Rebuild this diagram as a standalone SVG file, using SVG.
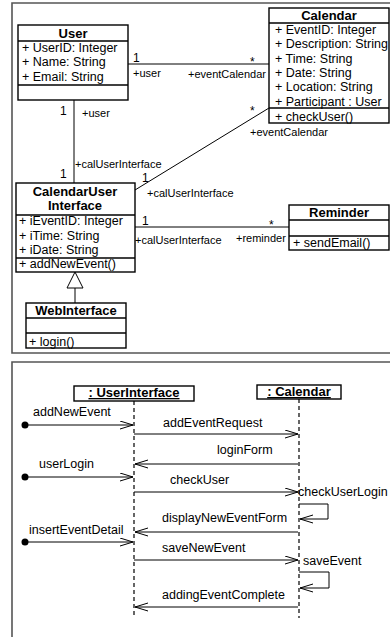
<svg xmlns="http://www.w3.org/2000/svg" width="390" height="637" viewBox="0 0 390 637">
<style>
text{font-family:"Liberation Sans",Arial,sans-serif;fill:#000}
.t{font-size:13px;font-weight:bold;text-anchor:middle}
.a{font-size:12.5px}
.r{font-size:11px}
.m{font-size:12px}
.box{fill:#fff;stroke:#000;stroke-width:1.4}
.sep{stroke:#000;stroke-width:1.4}
.frame{fill:none;stroke:#555;stroke-width:1.6}
.ln{fill:none;stroke:#000;stroke-width:1}
.life{stroke:#000;stroke-width:1.2;stroke-dasharray:4,3}
</style>
<defs>
<marker id="open" markerUnits="userSpaceOnUse" markerWidth="14" markerHeight="10" refX="13" refY="4.5" orient="auto">
<path d="M0,0.5 L13,4.5 L0,8.5" fill="none" stroke="#000" stroke-width="1"/>
</marker>
</defs>
<rect width="390" height="637" fill="#fff"/>
<!-- frames -->
<path class="frame" d="M395,3 H12 V353 H395"/>
<path class="frame" d="M395,362 H12 V640"/>

<g id="connectors">
<line class="ln" x1="128" y1="64" x2="269" y2="64"/>
<line class="ln" x1="74" y1="100" x2="74" y2="183"/>
<line class="ln" x1="135" y1="190" x2="269" y2="108"/>
<line class="ln" x1="135" y1="227" x2="289" y2="227"/>
<line class="ln" x1="75" y1="288" x2="75" y2="303"/>
<path d="M75,272 L67,288 L83,288 Z" fill="#fff" stroke="#000" stroke-width="1"/>
<text class="m" x="133" y="62">1</text>
<text class="r" x="133" y="77">+user</text>
<text class="m" x="250" y="66">*</text>
<text class="r" x="188" y="78">+eventCalendar</text>
<text class="m" x="60" y="115">1</text>
<text class="r" x="82" y="117">+user</text>
<text class="m" x="60" y="178">1</text>
<text class="r" x="75" y="168">+calUserInterface</text>
<text class="m" x="142" y="182">1</text>
<text class="r" x="147" y="197">+calUserInterface</text>
<text class="m" x="250" y="115">*</text>
<text class="r" x="250" y="136">+eventCalendar</text>
<text class="m" x="142" y="225">1</text>
<text class="r" x="135" y="244">+calUserInterface</text>
<text class="m" x="269" y="229">*</text>
<text class="r" x="236" y="242">+reminder</text>
</g>

<g id="User">
<rect class="box" x="18" y="25" width="110" height="75"/>
<line class="sep" x1="18" y1="41" x2="128" y2="41"/>
<line class="sep" x1="18" y1="85" x2="128" y2="85"/>
<text class="t" x="73" y="38">User</text>
<text class="a" x="22" y="52">+ UserID: Integer</text>
<text class="a" x="22" y="66">+ Name: String</text>
<text class="a" x="22" y="81">+ Email: String</text>
</g>

<g id="Calendar">
<rect class="box" x="269" y="8" width="120" height="115"/>
<line class="sep" x1="269" y1="23" x2="389" y2="23"/>
<line class="sep" x1="269" y1="108" x2="389" y2="108"/>
<text class="t" x="329" y="20">Calendar</text>
<text class="a" x="275" y="34">+ EventID: Integer</text>
<text class="a" x="275" y="48">+ Description: String</text>
<text class="a" x="275" y="63">+ Time: String</text>
<text class="a" x="275" y="77">+ Date: String</text>
<text class="a" x="275" y="91">+ Location: String</text>
<text class="a" x="275" y="106">+ Participant : User</text>
<text class="a" x="275" y="121">+ checkUser()</text>
</g>

<g id="CalendarUserInterface">
<rect class="box" x="16" y="183" width="119" height="89"/>
<line class="sep" x1="16" y1="215" x2="135" y2="215"/>
<line class="sep" x1="16" y1="258" x2="135" y2="258"/>
<text class="t" x="75" y="196">CalendarUser</text>
<text class="t" x="75" y="210">Interface</text>
<text class="a" x="19" y="225">+ iEventID: Integer</text>
<text class="a" x="19" y="240">+ iTime: String</text>
<text class="a" x="19" y="254">+ iDate: String</text>
<text class="a" x="19" y="268">+ addNewEvent()</text>
</g>

<g id="Reminder">
<rect class="box" x="289" y="205" width="100" height="45"/>
<line class="sep" x1="289" y1="220" x2="389" y2="220"/>
<line class="sep" x1="289" y1="236" x2="389" y2="236"/>
<text class="t" x="339" y="217">Reminder</text>
<text class="a" x="293" y="247">+ sendEmail()</text>
</g>

<g id="WebInterface">
<rect class="box" x="26" y="303" width="100" height="45"/>
<line class="sep" x1="26" y1="318" x2="126" y2="318"/>
<line class="sep" x1="26" y1="333" x2="126" y2="333"/>
<text class="t" x="76" y="315">WebInterface</text>
<text class="a" x="29" y="346">+ login()</text>
</g>

<g id="UserInterfaceLifeline">
<line class="life" x1="134" y1="401" x2="134" y2="618"/>
<rect class="box" x="74" y="386" width="120" height="15"/>
<text class="t" x="134" y="397" text-decoration="underline">: UserInterface</text>
</g>

<g id="CalendarLifeline">
<line class="life" x1="299" y1="399" x2="299" y2="618"/>
<rect class="box" x="257" y="385" width="84" height="14"/>
<text class="t" x="299" y="396" text-decoration="underline">: Calendar</text>
</g>

<g id="messages">
<circle cx="25" cy="425" r="3.5" fill="#000"/>
<line class="ln" x1="25" y1="425" x2="133" y2="425" marker-end="url(#open)"/>
<text class="a" x="33" y="416">addNewEvent</text>
<line class="ln" x1="134" y1="434" x2="298" y2="434" marker-end="url(#open)"/>
<text class="a" x="163" y="427">addEventRequest</text>
<line class="ln" x1="298" y1="464" x2="135" y2="464" marker-end="url(#open)"/>
<text class="a" x="217" y="454">loginForm</text>
<circle cx="25" cy="477" r="3.5" fill="#000"/>
<line class="ln" x1="25" y1="477" x2="133" y2="477" marker-end="url(#open)"/>
<text class="a" x="39" y="468">userLogin</text>
<line class="ln" x1="134" y1="492" x2="298" y2="492" marker-end="url(#open)"/>
<text class="a" x="170" y="484">checkUser</text>
<text class="a" x="298" y="496">checkUserLogin</text>
<path class="ln" d="M299,504 H328 V519 H300" marker-end="url(#open)"/>
<line class="ln" x1="298" y1="532" x2="135" y2="532" marker-end="url(#open)"/>
<text class="a" x="162" y="522">displayNewEventForm</text>
<circle cx="25" cy="542" r="3.5" fill="#000"/>
<line class="ln" x1="25" y1="542" x2="133" y2="542" marker-end="url(#open)"/>
<text class="a" x="29" y="534">insertEventDetail</text>
<line class="ln" x1="134" y1="560" x2="298" y2="560" marker-end="url(#open)"/>
<text class="a" x="162" y="552">saveNewEvent</text>
<text class="a" x="303" y="565">saveEvent</text>
<path class="ln" d="M299,572 H329 V588 H300" marker-end="url(#open)"/>
<line class="ln" x1="298" y1="607" x2="135" y2="607" marker-end="url(#open)"/>
<text class="a" x="162" y="599">addingEventComplete</text>
</g>
</svg>
